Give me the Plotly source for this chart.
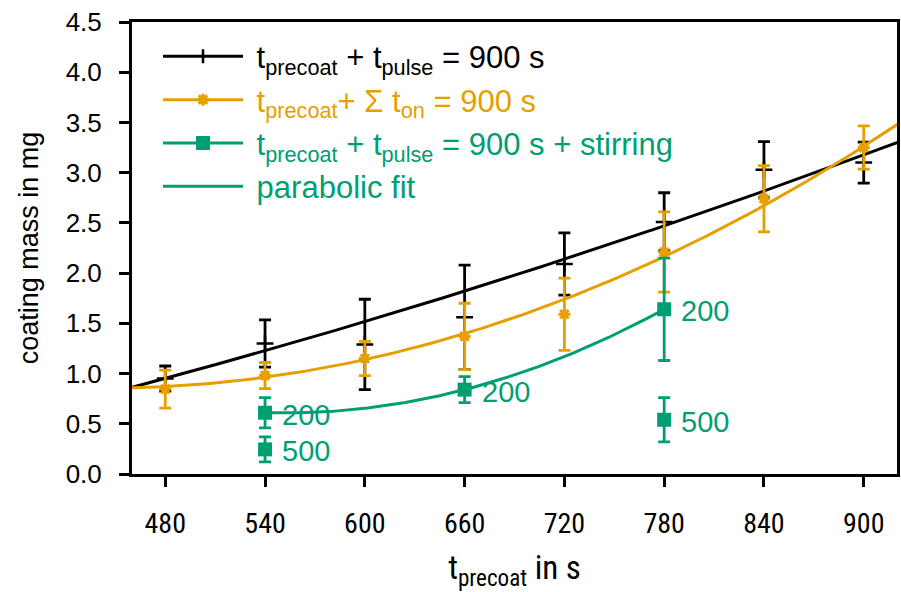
import numpy as np
import plotly.graph_objects as go

# ---------------- data ----------------
t_precoat = [480, 540, 600, 660, 720, 780, 840, 900]
mass_pulse = [0.95, 1.30, 1.29, 1.56, 2.09, 2.51, 3.03, 3.10]
err_pulse = [0.125, 0.235, 0.45, 0.52, 0.31, 0.29, 0.28, 0.205]
mass_ton = [0.845, 0.98, 1.15, 1.37, 1.59, 2.21, 2.74, 3.25]
err_ton = [0.19, 0.13, 0.17, 0.33, 0.36, 0.40, 0.33, 0.215]

t_stir = [540, 540, 660, 780, 780]
mass_stir = [0.61, 0.245, 0.84, 1.64, 0.54]
err_stir = [0.15, 0.125, 0.13, 0.51, 0.22]
label_stir = ["200", "500", "200", "200", "500"]

x_ticks = [480, 540, 600, 660, 720, 780, 840, 900]
y_ticks = [0.0, 0.5, 1.0, 1.5, 2.0, 2.5, 3.0, 3.5, 4.0, 4.5]

BLACK = "#000000"
ORANGE = "#E69F00"
GREEN = "#009E73"
FONT = "Liberation Sans, Arial, sans-serif"
NARROW = "Liberation Sans Narrow, Arial Narrow, Roboto Condensed, Liberation Sans, sans-serif"

# weighted parabolic fits
def pfit(x, y, e, xs):
    c = np.polyfit(np.array(x, float), np.array(y, float), 2, w=1.0 / np.array(e, float))
    return np.polyval(c, xs)

xs_full = np.linspace(455, 925, 300)
fit_pulse = pfit(t_precoat, mass_pulse, err_pulse, xs_full)
fit_ton = pfit(t_precoat, mass_ton, err_ton, xs_full)
sel = [i for i, l in enumerate(label_stir) if l == "200"]
xs_stir = np.linspace(min(t_stir[i] for i in sel), max(t_stir[i] for i in sel), 200)
fit_stir = pfit([t_stir[i] for i in sel], [mass_stir[i] for i in sel],
                [err_stir[i] for i in sel], xs_stir)

fig = go.Figure()

# black
fig.add_trace(go.Scatter(x=t_precoat, y=mass_pulse, mode="markers", showlegend=False,
                         marker=dict(symbol="cross-thin-open", size=12, color=BLACK,
                                     line=dict(width=2.5, color=BLACK)),
                         error_y=dict(type="data", array=err_pulse, color=BLACK,
                                      thickness=2.8, width=6)))
fig.add_trace(go.Scatter(x=xs_full, y=fit_pulse, mode="lines", showlegend=False,
                         line=dict(color=BLACK, width=3)))
# orange
fig.add_trace(go.Scatter(x=t_precoat, y=mass_ton, mode="markers", showlegend=False,
                         marker=dict(symbol="asterisk-open", size=10, color=ORANGE,
                                     line=dict(width=3, color=ORANGE)),
                         error_y=dict(type="data", array=err_ton, color=ORANGE,
                                      thickness=2.8, width=6)))
fig.add_trace(go.Scatter(x=xs_full, y=fit_ton, mode="lines", showlegend=False,
                         line=dict(color=ORANGE, width=3)))
# green
fig.add_trace(go.Scatter(x=t_stir, y=mass_stir, mode="markers", showlegend=False,
                         marker=dict(symbol="square", size=14, color=GREEN),
                         error_y=dict(type="data", array=err_stir, color=GREEN,
                                      thickness=2.8, width=6)))
fig.add_trace(go.Scatter(x=xs_stir, y=fit_stir, mode="lines", showlegend=False,
                         line=dict(color=GREEN, width=3)))

# legend entries
NB = "\u00a0"
leg = [
    ("t<sub>precoat</sub> + t<sub>pulse</sub> = 900 s", BLACK, "lines+markers",
     dict(symbol="line-ns", size=10, line=dict(width=2.5, color=BLACK))),
    ("t<sub>precoat</sub>+ Σ t<sub>on</sub> = 900 s", ORANGE, "lines+markers",
     dict(symbol="asterisk-open", size=10, line=dict(width=3, color=ORANGE))),
    ("t<sub>precoat</sub> + t<sub>pulse</sub> = 900 s + stirring", GREEN, "lines+markers",
     dict(symbol="square", size=14)),
    ("parabolic fit", GREEN, "lines", None),
]
for i, (name, col, mode, mk) in enumerate(leg):
    kw = dict(x=[None], y=[None], mode=mode, legendgroup=f"g{i}",
              name=f'<span style="color:{col}">{NB}{name}</span>',
              line=dict(color=col, width=3))
    if mk:
        m = dict(mk)
        m["color"] = col
        kw["marker"] = m
    fig.add_trace(go.Scatter(**kw))

for x, y, l in zip(t_stir, mass_stir, label_stir):
    fig.add_annotation(x=x, y=y, text=l, showarrow=False, xanchor="left",
                       xshift=15, yshift=-2, font=dict(family=FONT, size=29, color=GREEN))

fig.update_layout(
    width=901, height=592,
    margin=dict(l=132, r=1, t=22, b=118),
    paper_bgcolor="white", plot_bgcolor="white",
    font=dict(family=FONT, size=26, color=BLACK),
    legend=dict(x=0.034, y=0.983, xanchor="left", yanchor="top",
                bgcolor="rgba(0,0,0,0)", font=dict(family=FONT, size=31),
                itemwidth=80, traceorder="grouped", tracegroupgap=0),
    xaxis=dict(range=[460, 920], tickvals=x_ticks, ticks="outside", ticklen=10,
               tickwidth=2.8, tickcolor=BLACK, showline=True, linewidth=3,
               linecolor=BLACK, mirror=True, showgrid=False, zeroline=False,
               tickfont=dict(family=NARROW, size=28), ticklabelstandoff=12,
               title=dict(text="t<sub>precoat</sub> in s", standoff=20,
                          font=dict(family=NARROW, size=33))),
    yaxis=dict(range=[0, 4.5], tickvals=y_ticks, tickformat=".1f", ticks="outside",
               ticklen=10, tickwidth=2.8, tickcolor=BLACK, showline=True,
               linewidth=3, linecolor=BLACK, mirror=True, showgrid=False,
               zeroline=False, tickfont=dict(family=FONT, size=26),
               ticklabelstandoff=12,
               title=dict(text="coating mass in mg", standoff=20,
                          font=dict(family=FONT, size=27))),
)

fig.write_html("out.html")
